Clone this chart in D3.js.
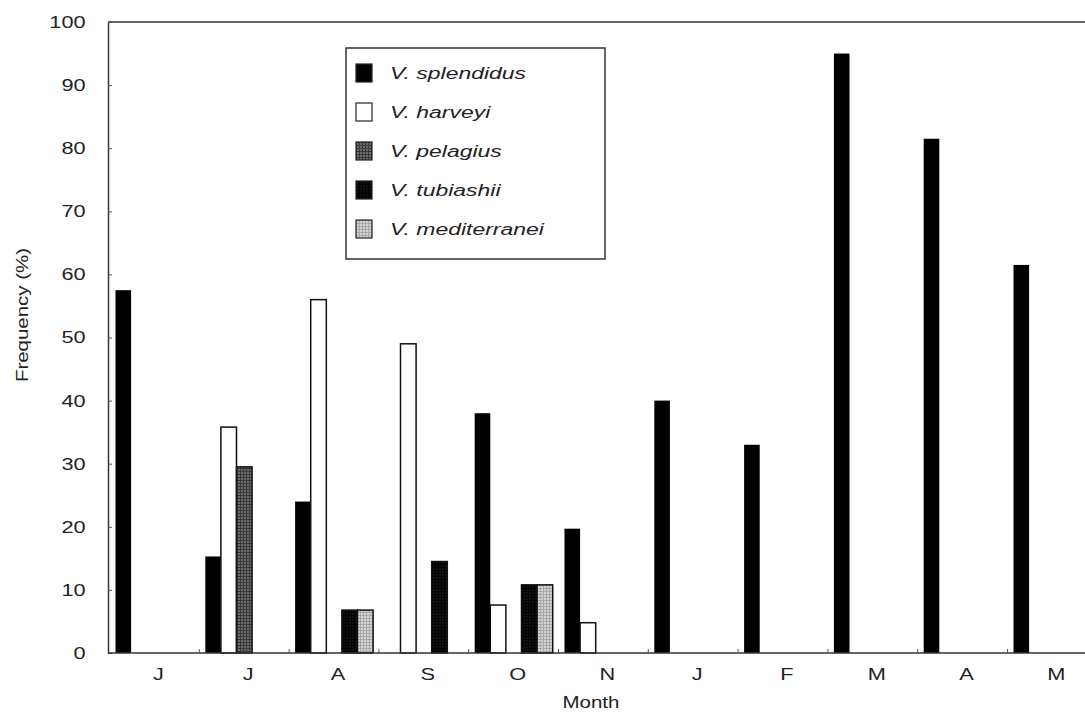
<!DOCTYPE html>
<html>
<head>
<meta charset="utf-8">
<script src="https://cdn.jsdelivr.net/npm/d3@7"></script>
<style>
  body { margin: 0; background: #fff; }
  text { font-family: "Liberation Sans", Arial, sans-serif; fill: #222; }
</style>
</head>
<body>
<div id="chart"></div>
<script>
var svgWidth = 1085;
var svgHeight = 713;

// data
var months = ["J", "J", "A", "S", "O", "N", "J", "F", "M", "A", "M"];
var species = ["V. splendidus", "V. harveyi", "V. pelagius", "V. tubiashii", "V. mediterranei"];
var splendidus = [57.5, 15.3, 24, 0, 38, 19.7, 40, 33, 95, 81.5, 61.5];
var harveyi = [0, 35.8, 56, 49, 7.6, 4.8, 0, 0, 0, 0, 0];
var pelagius = [0, 29.5, 0, 0, 0, 0, 0, 0, 0, 0, 0];
var tubiashii = [0, 0, 6.8, 14.5, 10.8, 0, 0, 0, 0, 0, 0];
var mediterranei = [0, 0, 6.8, 0, 10.8, 0, 0, 0, 0, 0, 0];
var yTicks = [0, 10, 20, 30, 40, 50, 60, 70, 80, 90, 100];

var series = [splendidus, harveyi, pelagius, tubiashii, mediterranei];

var margin = { top: 22, left: 108 };
var plotBottom = 653;
var step = 89.8;
var stretch = 1.28; // the scanned lettering is wide

var svg = d3.select("#chart")
  .append("svg")
  .attr("width", svgWidth)
  .attr("height", svgHeight);

// fill patterns for the hatched species
var defs = svg.append("defs");
function gridPattern(id, bg, line) {
  var p = defs.append("pattern")
    .attr("id", id)
    .attr("patternUnits", "userSpaceOnUse")
    .attr("width", 3)
    .attr("height", 3);
  p.append("rect").attr("width", 3).attr("height", 3).attr("fill", bg);
  p.append("path").attr("d", "M0,0.5H3M0.5,0V3").attr("stroke", line).attr("stroke-width", 1);
}
gridPattern("pel", "#6a6a6a", "#3a3a3a");
gridPattern("med", "#d4d4d4", "#a8a8a8");
gridPattern("tub", "#101010", "#000");

var fills = ["#000", "#fff", "url(#pel)", "url(#tub)", "url(#med)"];

var x0 = d3.scaleBand()
  .domain(d3.range(months.length))
  .range([109.5, 109.5 + step * months.length]);

var x1 = d3.scaleBand()
  .domain(d3.range(species.length))
  .range([6, 84]);

var y = d3.scaleLinear()
  .domain([0, 100])
  .range([plotBottom, margin.top]);

// top frame line
svg.append("line")
  .attr("x1", margin.left).attr("x2", svgWidth)
  .attr("y1", margin.top).attr("y2", margin.top)
  .attr("stroke", "#333").attr("stroke-width", 1.5);

// bars
var barData = [];
series.forEach(function(vals, si) {
  vals.forEach(function(v, mi) {
    if (v > 0) barData.push({ s: si, m: mi, v: v });
  });
});

svg.append("g").selectAll("rect")
  .data(barData)
  .enter()
  .append("rect")
  .attr("x", d => x0(d.m) + x1(d.s))
  .attr("y", d => y(d.v))
  .attr("width", x1.bandwidth())
  .attr("height", d => y(0) - y(d.v))
  .attr("fill", d => fills[d.s])
  .attr("stroke", "#111")
  .attr("stroke-width", d => d.s === 0 ? 0 : 1.5);

// y axis
var leftAxis = d3.axisLeft(y).tickValues(yTicks).tickSize(-4).tickPadding(17.5).tickSizeOuter(0);
var yAxis = svg.append("g")
  .attr("transform", `translate(${margin.left}, 0)`)
  .call(leftAxis);
yAxis.select(".domain").attr("stroke", "#333").attr("stroke-width", 1.5);
yAxis.selectAll(".tick line").attr("stroke", "#555");
yAxis.selectAll("text")
  .attr("font-size", 17)
  .attr("fill", "#222")
  .attr("transform", `scale(${stretch}, 1)`);

// x baseline and category ticks
svg.append("line")
  .attr("x1", margin.left).attr("x2", svgWidth)
  .attr("y1", plotBottom).attr("y2", plotBottom)
  .attr("stroke", "#333").attr("stroke-width", 1.5);

svg.append("g").selectAll("line")
  .data(d3.range(1, months.length))
  .enter()
  .append("line")
  .attr("x1", d => x0(d)).attr("x2", d => x0(d))
  .attr("y1", plotBottom).attr("y2", plotBottom - 4)
  .attr("stroke", "#555");

svg.append("g").selectAll("text")
  .data(months)
  .enter()
  .append("text")
  .attr("transform", (d, i) => `translate(${x0(i) + x0.bandwidth() / 2 + 4}, 680) scale(${stretch}, 1)`)
  .attr("text-anchor", "middle")
  .attr("font-size", 17)
  .text(d => d);

// axis titles
svg.append("text")
  .attr("transform", `translate(591, 708) scale(${stretch}, 1)`)
  .attr("text-anchor", "middle")
  .attr("font-size", 16)
  .text("Month");

svg.append("text")
  .attr("transform", `translate(28, 315) rotate(-90) scale(${stretch}, 1)`)
  .attr("text-anchor", "middle")
  .attr("font-size", 16)
  .text("Frequency (%)");

// legend
var legend = svg.append("g");
legend.append("rect")
  .attr("x", 346).attr("y", 48)
  .attr("width", 259).attr("height", 211)
  .attr("fill", "#fff")
  .attr("stroke", "#333").attr("stroke-width", 1.5);

var rows = legend.selectAll("g.row")
  .data(species)
  .enter()
  .append("g")
  .attr("class", "row")
  .attr("transform", (d, i) => `translate(356, ${73 + i * 39})`);

rows.append("rect")
  .attr("x", 0).attr("y", -9)
  .attr("width", 16).attr("height", 18)
  .attr("fill", (d, i) => fills[i])
  .attr("stroke", "#222").attr("stroke-width", 1.2);

rows.append("text")
  .attr("transform", "translate(34, 6) scale(1.35, 1)")
  .attr("font-size", 17)
  .attr("font-style", "italic")
  .text(d => d);
</script>
</body>
</html>
